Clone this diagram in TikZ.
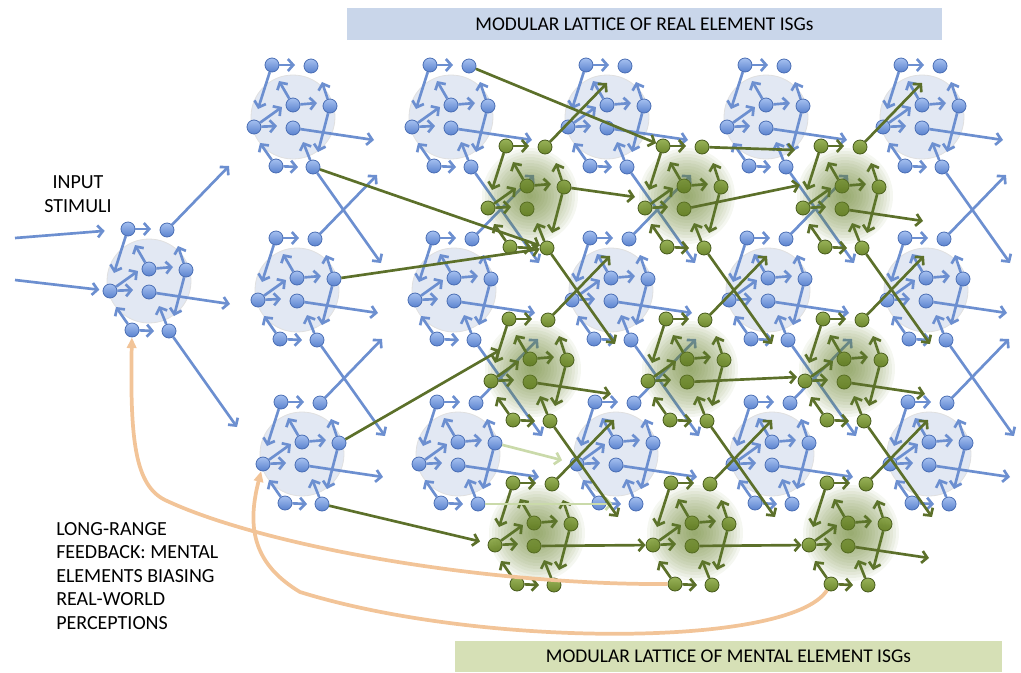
\documentclass[tikz,border=0pt]{standalone}
\usepackage{fontspec}
\setmainfont{Carlito}
\usetikzlibrary{arrows.meta,calc}

\definecolor{bline}{RGB}{108,143,208}
\definecolor{bedge}{RGB}{74,110,180}
\definecolor{bhi}{RGB}{165,192,240}
\definecolor{blo}{RGB}{90,130,206}
\definecolor{bdiscc}{RGB}{226,232,243}
\definecolor{gline}{RGB}{92,112,42}
\definecolor{gedge}{RGB}{70,90,28}
\definecolor{ghi}{RGB}{152,178,88}
\definecolor{glo}{RGB}{110,136,46}
\definecolor{gglow}{RGB}{104,130,44}
\definecolor{gpale}{RGB}{202,218,170}
\definecolor{feedc}{RGB}{242,196,152}
\definecolor{realbox}{RGB}{201,214,234}
\definecolor{mentbox}{RGB}{214,224,182}

\tikzset{
  bnode/.style={circle, draw=bedge, line width=0.6pt, top color=bhi, bottom color=blo, minimum size=10.5pt, inner sep=0pt},
  gnode/.style={circle, draw=gedge, line width=0.6pt, top color=ghi, bottom color=glo, minimum size=10.5pt, inner sep=0pt},
  barrow/.style={bline, line width=2pt, -{Straight Barb[length=4pt,width=9pt]}},
  garrow/.style={gline, line width=2pt, -{Straight Barb[length=4pt,width=9pt]}},
  plink/.style={gpale, line width=2pt, -{Straight Barb[length=4pt,width=9pt]}},
  feed/.style={feedc, line width=2.8pt, -{Triangle[length=8pt,width=7pt]}},
  bdisc/.style={fill=bdiscc, draw=black!12, line width=0.6pt},
  lbl/.style={font=\fontsize{15}{17.6}\selectfont, inner sep=0pt},
  bar/.style={font=\fontsize{14.6}{16}\selectfont, inner sep=0pt}
}

% nodes, inner arrows and exit points of one module
\newcommand{\isgbody}[2]{%
  \coordinate (#1) at (0,0);
  \coordinate (#1-bo) at (80,-113);
  \coordinate (#1-fo) at (81,25);
  \coordinate (#1-ho) at (88,148);
  \foreach \n/\x/\y in {a/-21/-50,b/18/-49,c/0/-10,d/37/-9,e/-39/12,f/0/13,g/-17/51,h/20/52}
    \node[#2node] (#1-\n) at (\x,\y) {};
  \foreach \s/\x/\y in {a/2/-50,a/-35/-6,c/-14/-34,c/24/-12,d/29/-33,d/25/37,e/-11/-8,e/-16/11,g/-33/28,g/5/52,h/10/27}
    \draw[#2arrow] (#1-\s) -- (\x,\y);
}
% real element module
\newcommand{\isg}[3]{%
  \begin{scope}[shift={(#2,#3)}]
    \path[bdisc] (0,2) circle[radius=31.5pt];
    \isgbody{#1}{b}
  \end{scope}}
% mental element module
\newcommand{\misg}[3]{%
  \begin{scope}[shift={(#2,#3)}]
    \isgbody{#1}{g}
    \foreach \r in {3,6,...,48}
      \fill[gglow, opacity=0.065] (3,0) circle[radius=\r*0.75pt];
  \end{scope}}

\begin{document}
\begin{tikzpicture}[x=0.75pt,y=-0.75pt]
\useasboundingbox (0,0) rectangle (1021,672);

\node[bar, fill=realbox, minimum width=446pt, minimum height=24pt] (realbar) at (644.5,24) {MODULAR LATTICE OF REAL ELEMENT ISGs};
\node[bar, fill=mentbox, minimum width=410pt, minimum height=23.3pt] (mentbar) at (728.5,656.5) {MODULAR LATTICE OF MENTAL ELEMENT ISGs};

% real element lattice
\foreach \m/\mx/\my in {inp/149/279, b11/293/115, b21/297/288, b31/302/452,
    b12/451/115, b22/454/288, b32/458/452, b13/607/115, b23/611/288, b33/616/452,
    b14/766/115, b24/768/288, b34/772/452, b15/922/115, b25/926/288, b35/929/452}
  \isg{\m}{\mx}{\my};

\coordinate (s1) at (15,238);
\coordinate (s2) at (15,280);
\draw[barrow, shorten >=12pt] (s1) -- (inp-a);
\draw[barrow, shorten >=2.5pt] (s2) -- (inp-e);
\draw[barrow] (inp-b) -- (inp-bo);
\draw[barrow] (inp-f) -- (inp-fo);
\draw[barrow] (inp-h) -- (inp-ho);
\foreach \c in {1,...,5} {
  \draw[barrow] (b1\c-f) -- (b1\c-fo);
  \draw[barrow] (b1\c-h) -- (b1\c-ho);
  \draw[barrow] (b2\c-b) -- (b2\c-bo);
  \draw[barrow] (b2\c-f) -- (b2\c-fo);
  \draw[barrow] (b2\c-h) -- (b2\c-ho);
  \draw[barrow] (b3\c-b) -- (b3\c-bo);
  \draw[barrow] (b3\c-f) -- (b3\c-fo);
}

% mental element lattice
\foreach \m/\mx/\my in {g11/527/196, g12/684/196, g13/842/196,
    g21/530/369, g22/687/369, g23/844/369, g31/534/533, g32/692/533, g33/848/533}
  \misg{\m}{\mx}{\my};

% real to mental
\draw[garrow] (b11-h) -- (g11-h);
\draw[garrow] (b21-d) -- (g11-h);
\draw[garrow] (b31-d) -- ($(g21-a)!0.5!(g21-e)$);
\draw[garrow, shorten >=6pt] (b31-h) -- (g31-e);
\draw[garrow] (b12-b) -- (g12-a);
\draw[plink, shorten >=6pt] (b32-d) -- (b33-e);
\draw[plink, shorten >=12pt] (b32-h) -- (b33-h);

% mental to mental
\draw[garrow] (g11-b) -- (g11-bo);
\draw[garrow] (g11-d) -- ($(g11)+(108,1)$);
\draw[garrow] (g11-h) -- (g11-ho);
\draw[garrow] (g12-b) -- ($(g12)+(111,-46)$);
\draw[garrow] (g12-f) -- ($(g12)+(116,-11)$);
\draw[garrow] (g12-h) -- (g12-ho);
\draw[garrow] (g13-b) -- (g13-bo);
\draw[garrow] (g13-f) -- (g13-fo);
\draw[garrow] (g13-h) -- (g13-ho);
\draw[garrow] (g21-b) -- (g21-bo);
\draw[garrow] (g21-f) -- (g21-fo);
\draw[garrow] (g21-h) -- (g21-ho);
\draw[garrow] (g22-b) -- (g22-bo);
\draw[garrow] (g22-f) -- ($(g22)+(110,8)$);
\draw[garrow] (g22-h) -- (g22-ho);
\draw[garrow] (g23-b) -- (g23-bo);
\draw[garrow] (g23-f) -- (g23-fo);
\draw[garrow] (g23-h) -- (g23-ho);
\draw[garrow] (g31-b) -- (g31-bo);
\draw[garrow] (g31-f) -- (g32-e);
\draw[garrow] (g32-b) -- (g32-bo);
\draw[garrow] (g32-f) -- (g33-e);
\draw[garrow] (g33-b) -- (g33-bo);
\draw[garrow] (g33-f) -- (g33-fo);

% long-range feedback
\draw[feed] (g32-g) .. controls (480,585) and (260,545) .. (165,500)
  .. controls (135,485) and (130,440) .. (inp-g);
\draw[feed] (g33-g) .. controls (790,648) and (480,648) .. (300,592)
  .. controls (255,565) and (246,530) .. (b31-e);

\node[lbl, align=center] (stimuli) at (78,194) {INPUT\\STIMULI};
\node[lbl, align=left, anchor=west] (feedback) at (56,576) {LONG-RANGE\\FEEDBACK: MENTAL\\ELEMENTS BIASING\\REAL-WORLD\\PERCEPTIONS};
\end{tikzpicture}
\end{document}
